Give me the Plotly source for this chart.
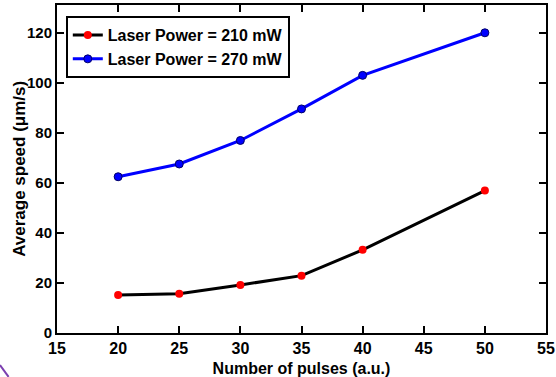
import plotly.graph_objects as go

pulses = [20, 25, 30, 35, 40, 50]
speed_210 = [15.2, 15.7, 19.2, 22.9, 33.2, 56.9]
speed_270 = [62.4, 67.5, 76.9, 89.5, 102.9, 119.9]
x_ticks = [15, 20, 25, 30, 35, 40, 45, 50, 55]
y_ticks = [0, 20, 40, 60, 80, 100, 120]

FONT = "Liberation Sans, Arial, sans-serif"

fig = go.Figure()
fig.add_trace(go.Scatter(
    x=pulses, y=speed_210, mode="lines+markers",
    name="Laser Power = 210 mW",
    line=dict(color="black", width=3),
    marker=dict(color="red", size=8),
))
fig.add_trace(go.Scatter(
    x=pulses, y=speed_270, mode="lines+markers",
    name="Laser Power = 270 mW",
    line=dict(color="blue", width=3),
    marker=dict(color="blue", size=8, line=dict(color="#000066", width=1)),
))

axis_common = dict(
    showline=True, linecolor="black", linewidth=2, mirror="ticks",
    ticks="inside", ticklen=7, tickwidth=1.5, tickcolor="black",
    showgrid=False, zeroline=False, automargin=False,
)

fig.update_layout(
    width=556, height=377,
    margin=dict(l=57, r=10, t=5, b=44),
    paper_bgcolor="white", plot_bgcolor="white",
    font=dict(family=FONT, color="black"),
    xaxis=dict(range=[15, 55], tickvals=x_ticks, ticklabelstandoff=0,
               tickfont=dict(family=FONT, size=16, color="black", weight="bold"),
               title=dict(text="Number of pulses (a.u.)",
                          font=dict(family=FONT, size=16, weight="bold")),
               **axis_common),
    yaxis=dict(range=[0, 131], tickvals=y_ticks, ticklabelstandoff=0,
               tickfont=dict(family=FONT, size=15, color="black", weight="bold"),
               **axis_common),
    legend=dict(
        x=0.018, y=0.966, xanchor="left", yanchor="top",
        bgcolor="white", bordercolor="black", borderwidth=2,
        font=dict(family=FONT, size=16, color="black", weight="bold"),
        itemwidth=30, tracegroupgap=0,
    ),
    showlegend=True,
    annotations=[dict(
        text="Average speed (μm/s)", textangle=-90,
        xref="paper", yref="paper", x=-0.078, y=0.5,
        xanchor="center", yanchor="middle", showarrow=False,
        font=dict(family=FONT, size=17, color="black", weight="bold"),
    )],
    shapes=[dict(
        type="line", xref="paper", yref="paper",
        x0=-0.1166, y0=-0.0976, x1=-0.099, y1=-0.134,
        line=dict(color="#7b3fb0", width=2),
    )],
)

fig.write_html(
    "out.html",
    config={"displayModeBar": False},
    post_script="document.body.style.margin='0';document.body.style.overflow='hidden';",
)
